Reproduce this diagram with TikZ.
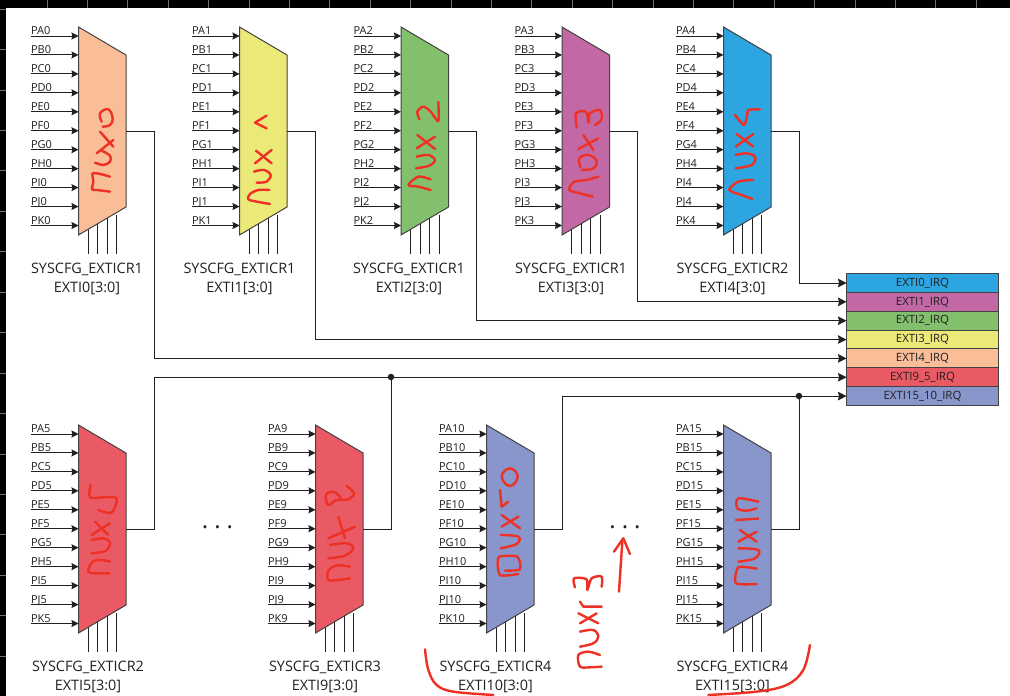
\documentclass[tikz,border=0pt]{standalone}
\usepackage{fontspec}
\setmainfont{Open Sans}
\usepackage{xcolor}
\usetikzlibrary{positioning, arrows.meta, calc}

\definecolor{muxpeach}{HTML}{F9BE98}
\definecolor{muxyellow}{HTML}{EBE978}
\definecolor{muxgreen}{HTML}{82C06E}
\definecolor{muxpurple}{HTML}{C269A5}
\definecolor{muxblue}{HTML}{2DA5E0}
\definecolor{muxred}{HTML}{E95A65}
\definecolor{muxslate}{HTML}{8896CB}
\definecolor{inkred}{HTML}{EE3124}
\definecolor{wireblack}{HTML}{231F20}

% one multiplexer: id, left x, top y, colour, line number, caption centre x, register
\newcommand{\muxunit}[7]{
  \node[muxbox] (mux#1) at ({#2+23.75},{#3+104}) {};
  \node[caplbl, anchor=north] (cap#1) at (#6,{#3+227}) {SYSCFG\_EXTICR#7\\EXTI#5[3:0]};
  \foreach \d in {9.5,19,28.5,38}{
    \coordinate (sel) at ($(mux#1.south west)+(\d,-20)$);
    \draw[wire] (sel) -- (sel |- cap#1.north);
  }
  \draw[muxedge, fill=#4] (mux#1.north west) -- ($(mux#1.north east)+(0,28)$)
    -- ($(mux#1.south east)+(0,-28)$) -- (mux#1.south west) -- cycle;
  \foreach \p [count=\i from 0] in {A,B,C,D,E,F,G,H,I,J,K}{
    \node[pinlbl] (pin#1\p) at ({#2-47.5},{#3+9+18.95*\i}) {P\p#5};
    \draw[arr] (pin#1\p.south west) -- (mux#1.west |- pin#1\p.south west);
  }
}

\begin{document}
\begin{tikzpicture}[
    x=1pt, y=-1pt,
    >={Stealth[length=7pt, width=7pt, inset=0.8pt]},
    muxbox/.style={rectangle, inner sep=0pt, outer sep=0pt, minimum width=47.5pt, minimum height=208pt},
    muxedge/.style={draw=wireblack!85, line width=1pt, line join=miter},
    wire/.style={draw=wireblack, line width=1pt},
    arr/.style={->, wire},
    irqarr/.style={-{Stealth[length=8.5pt, width=8.5pt, inset=1pt]}, wire},
    pinlbl/.style={anchor=south west, inner sep=0pt, outer sep=0pt, minimum height=12pt, text depth=0pt, font=\fontsize{11}{11}\selectfont, text=wireblack, text height=9pt},
    caplbl/.style={align=center, inner xsep=0pt, inner ysep=9.5pt, outer sep=0pt, font=\fontsize{14.4}{19}\selectfont, text=wireblack},
    irq/.style={rectangle, draw=wireblack!85, line width=1pt, fill=#1, minimum width=152pt, minimum height=18.85pt, inner sep=0pt, outer sep=0pt, font=\fontsize{11.4}{12}\selectfont, text=wireblack},
    junction/.style={circle, fill=wireblack, inner sep=0pt, minimum size=6.5pt},
    dotslbl/.style={inner sep=0pt, font=\fontsize{24}{24}\selectfont, text=wireblack},
    ink/.style={draw=inkred, line width=2.4pt, line cap=round, line join=round},
    crop/.style 2 args={shift={(#1,#2)}, x=0.3333pt, y=-0.3333pt},
    band/.style={fill=black, draw=none},
    tick/.style={draw=black!55, line width=0.8pt}
]
\useasboundingbox (0,0) rectangle (1010,696);
\fill[white] (0,0) rectangle (1010,696);

% screen edge
\fill[band] (0,0) rectangle (1010,8);
\fill[band] (0,0) rectangle (6,696);
\foreach \t in {0,...,23} \draw[tick] ({47+40.4*\t},0) -- ({47+40.4*\t},8);
\foreach \t in {0,...,17} \draw[tick] (0,{9+40.45*\t}) -- (6,{9+40.45*\t});

% top row
\muxunit{0}{78.5}{27}{muxpeach}{0}{87}{1}
\muxunit{1}{239.5}{27}{muxyellow}{1}{239.5}{1}
\muxunit{2}{401}{27}{muxgreen}{2}{409}{1}
\muxunit{3}{562}{27}{muxpurple}{3}{571}{1}
\muxunit{4}{723.5}{27}{muxblue}{4}{732.5}{2}

% bottom row
\muxunit{5}{78.5}{425}{muxred}{5}{88}{2}
\muxunit{9}{315.5}{425}{muxred}{9}{325}{3}
\muxunit{10}{486.5}{425}{muxslate}{10}{495.5}{4}
\muxunit{15}{723.5}{425}{muxslate}{15}{732.5}{4}

\node[dotslbl] (gapa) at (217.5,527) {.\hspace{6pt}.\hspace{6pt}.};
\node[dotslbl] (gapb) at (625,527) {.\hspace{6pt}.\hspace{6pt}.};

% interrupt lines
\node[irq=muxblue] (irq0) at (922.5,283) {EXTI0\_IRQ};
\node[irq=muxpurple, below=0pt of irq0] (irq1) {EXTI1\_IRQ};
\node[irq=muxgreen, below=0pt of irq1] (irq2) {EXTI2\_IRQ};
\node[irq=muxyellow, below=0pt of irq2] (irq3) {EXTI3\_IRQ};
\node[irq=muxpeach, below=0pt of irq3] (irq4) {EXTI4\_IRQ};
\node[irq=muxred, below=0pt of irq4] (irq95) {EXTI9\_5\_IRQ};
\node[irq=muxslate, below=0pt of irq95] (irq1510) {EXTI15\_10\_IRQ};

\draw[irqarr] (mux4.east) -- ++(28,0) |- (irq0.west);
\draw[irqarr] (mux3.east) -- ++(28,0) |- (irq1.west);
\draw[irqarr] (mux2.east) -- ++(28,0) |- (irq2.west);
\draw[irqarr] (mux1.east) -- ++(28,0) |- (irq3.west);
\draw[irqarr] (mux0.east) -- ++(28,0) |- (irq4.west);
\draw[irqarr] (mux5.east) -- ++(28,0) |- (irq95.west);
\draw[irqarr] (mux10.east) -- ++(28,0) |- (irq1510.west);

\node[junction] (joina) at (391,377) {};
\node[junction] (joinb) at (799,396) {};
\draw[wire] (mux9.east) -| (joina);
\draw[wire] (mux15.east) -| (joinb);

% hand notes
\begin{scope}[crop={60}{90}]
  \draw[ink] plot[smooth, tension=.4] coordinates {(150,305)(110,300)(96,298)(100,275)(98,250)(125,253)(150,260)};
  \draw[ink] plot[smooth, tension=.6] coordinates {(105,218)(130,225)(150,215)(150,197)(125,182)};
  \draw[ink] (110,190) -- (160,150);
  \draw[ink] (120,125) -- (160,170);
  \draw[ink] plot[smooth, tension=.7] coordinates {(125,95)(120,70)(145,58)(158,85)(150,105)(128,110)};
\end{scope}
\begin{scope}[crop={0}{0}]
  \draw[ink] plot[smooth, tension=.5] coordinates {(810,612)(770,605)(745,598)(750,582)(775,570)(808,570)};
  \draw[ink] plot[smooth, tension=.6] coordinates {(770,548)(800,545)(812,525)(792,510)(762,515)};
  \draw[ink] (765,490) -- (815,450);
  \draw[ink] (768,452) -- (815,490);
  \draw[ink] (800,347) -- (765,368) -- (800,385);
\end{scope}
\begin{scope}[crop={340}{0}]
  \draw[ink] plot[smooth, tension=.5] coordinates {(272,570)(235,560)(205,555)(235,530)(272,538)};
  \draw[ink] plot[smooth, tension=.6] coordinates {(228,505)(268,497)(285,480)(265,465)(230,470)};
  \draw[ink] (230,445) -- (285,410);
  \draw[ink] (232,405) -- (285,447);
  \draw[ink] plot[smooth, tension=.5] coordinates {(238,358)(232,335)(250,320)(272,335)(294,364)(296,335)(295,306)};
  \draw[ink] plot[smooth, tension=.5] coordinates {(758,590)(720,580)(688,570)(702,546)(740,540)(775,530)};
  \draw[ink] plot[smooth, tension=.7] coordinates {(725,510)(760,505)(770,482)(745,465)(718,475)(722,502)};
  \draw[ink] (715,447) -- (775,415);
  \draw[ink] (730,405) -- (760,450);
  \draw[ink] plot[smooth, tension=.5] coordinates {(710,382)(708,340)(738,335)(746,368)(750,340)(780,330)(785,358)(765,375)};
  \draw[ink] plot[smooth, tension=.5] coordinates {(1237,597)(1205,585)(1168,570)(1195,545)(1240,540)};
  \draw[ink] plot[smooth, tension=.6] coordinates {(1187,505)(1235,495)(1246,472)(1222,460)(1187,465)};
  \draw[ink] (1187,440) -- (1240,402);
  \draw[ink] (1190,402) -- (1240,440);
  \draw[ink] plot[smooth, tension=.4] coordinates {(1185,345)(1212,375)(1222,345)(1225,330)(1260,328)};
\end{scope}
\begin{scope}[crop={0}{410}]
  \draw[ink] plot[smooth, tension=.5] coordinates {(328,490)(295,490)(265,485)(278,455)(305,450)(330,455)};
  \draw[ink] plot[smooth, tension=.6] coordinates {(275,430)(318,422)(330,397)(310,385)(275,390)};
  \draw[ink] (275,375) -- (330,340);
  \draw[ink] (285,335) -- (325,375);
  \draw[ink] plot[smooth, tension=.5] coordinates {(272,225)(270,262)(310,262)(350,265)(335,308)(295,300)};
  \draw[ink] plot[smooth, tension=.5] coordinates {(1050,505)(1015,510)(985,510)(985,482)(1010,466)(1050,470)};
  \draw[ink] plot[smooth, tension=.6] coordinates {(985,445)(1035,437)(1060,415)(1040,400)(990,405)};
  \draw[ink] (985,385) -- (1065,350);
  \draw[ink] (1015,320) -- (1035,385);
  \draw[ink] plot[smooth, tension=.6] coordinates {(1040,228)(1062,250)(1045,268)(1010,270)(985,285)(978,255)(1000,245)(1022,262)};
\end{scope}
\begin{scope}[crop={410}{410}]
  \draw[ink] plot[smooth, tension=.4] coordinates {(325,492)(270,495)(266,442)(322,440)(330,478)(285,482)};
  \draw[ink] plot[smooth, tension=.6] coordinates {(272,415)(320,402)(325,380)(272,375)};
  \draw[ink] (275,350) -- (325,320);
  \draw[ink] (275,315) -- (330,355);
  \draw[ink] (270,240) -- (275,290) -- (295,275);
  \draw[ink] plot[smooth cycle, tension=.8] coordinates {(275,200)(300,175)(323,200)(300,228)};
  \draw[ink] plot[smooth, tension=.4] coordinates {(1040,522)(978,520)(985,472)(1040,476)};
  \draw[ink] plot[smooth, tension=.6] coordinates {(985,455)(1035,445)(1045,420)(985,415)};
  \draw[ink] (985,395) -- (1040,365);
  \draw[ink] (990,360) -- (1040,395);
  \draw[ink] (978,330) -- (1045,326);
  \draw[ink] plot[smooth, tension=.5] coordinates {(1045,275)(985,265)(982,295)(1010,302)(1040,295)};
  % second note, the arrow and the two arcs
  \draw[ink] plot[smooth, tension=.5] coordinates {(575,770)(540,772)(510,770)(505,735)(535,725)(570,735)};
  \draw[ink] plot[smooth, tension=.6] coordinates {(510,710)(550,700)(565,680)(550,660)(510,665)};
  \draw[ink] (510,640) -- (560,610);
  \draw[ink] (505,610) -- (565,640);
  \draw[ink] (575,590) -- (520,590) -- (510,575);
  \draw[ink] plot[smooth, tension=.5] coordinates {(495,532)(492,505)(530,508)(532,540)(545,505)(575,500)(575,530)};
  \draw[ink] (627,545) -- (637,395);
  \draw[ink] (612,425) -- (640,385) -- (660,432);
  \draw[ink] plot[smooth, tension=.6] coordinates {(45,718)(55,780)(80,825)(130,845)(250,855)};
  \draw[ink] plot[smooth, tension=.6] coordinates {(895,855)(1040,845)(1130,825)(1180,780)(1200,705)};
\end{scope}

\end{tikzpicture}
\end{document}
